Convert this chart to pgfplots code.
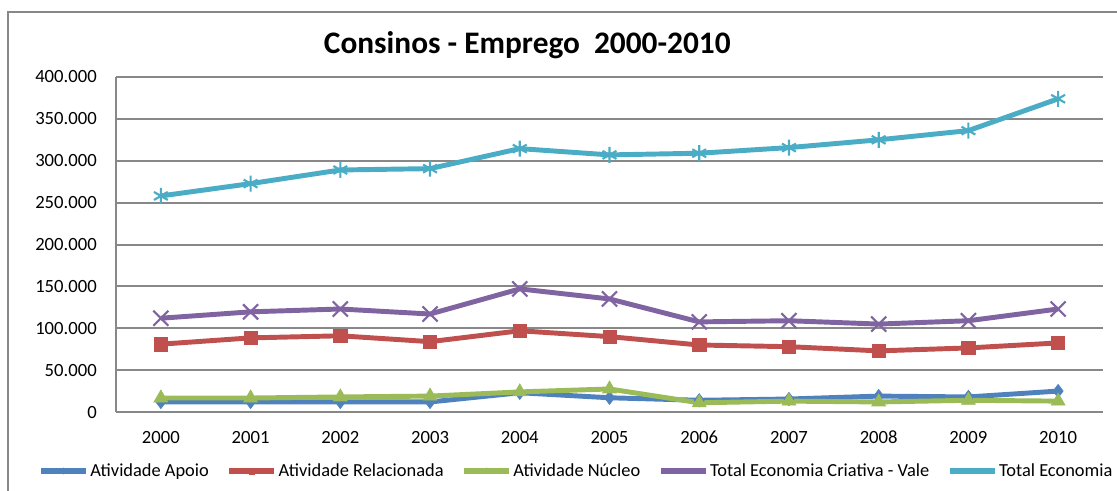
\documentclass[border=0pt]{standalone}
\usepackage{pgfplots}
\pgfplotsset{compat=1.18}
\usepackage{fontspec}
\setmainfont{Carlito}
\definecolor{cblue}{HTML}{4F81BD}
\definecolor{cred}{HTML}{C0504D}
\definecolor{cgreen}{HTML}{9BBB59}
\definecolor{cpurple}{HTML}{8064A2}
\definecolor{ccyan}{HTML}{4BACC6}
\definecolor{gridg}{HTML}{888888}
\begin{document}
\begin{tikzpicture}
\path[use as bounding box] (0,0) rectangle (837.75pt,-367.5pt);
\draw[gridg, line width=1.5pt] (6pt,-370pt) -- (6pt,-9pt) -- (840pt,-9pt);
\node[anchor=base, font=\bfseries\fontsize{23.5}{28}\selectfont, inner sep=0pt] at (395.5pt,-39.75pt) {Consinos - Emprego\ \ 2000-2010};
\begin{axis}[
  at={(87pt,-309pt)}, anchor=south west,
  width=740.25pt, height=251.25pt, scale only axis,
  xmin=-0.5, xmax=10.5, ymin=0, ymax=400000,
  xtick={0,...,10},
  xticklabels={2000,2001,2002,2003,2004,2005,2006,2007,2008,2009,2010},
  ytick={0,50000,...,400000},
  scaled y ticks=false,
  yticklabel={\pgfmathprintnumber[fixed,precision=0,1000 sep={.}]{\tick}},
  /pgf/number format/assume math mode=true,
  major tick length=0pt,
  axis x line*=bottom, axis y line*=left,
  axis line style={gridg, line width=1.5pt},
  ymajorgrids, grid style={gridg, line width=1.5pt},
  tick label style={font=\fontsize{14}{16}\selectfont, inner sep=0pt},
  yticklabel style={anchor=east, xshift=-14.25pt},
  xticklabel style={anchor=base, yshift=-23.25pt},
  legend columns=5,
  legend style={at={(-0.079,-0.1761)}, anchor=west, draw=none, fill=none, inner sep=0pt,
    font=\fontsize{13.8}{16}\selectfont,
    nodes={inner sep=1.2pt},
    /tikz/every odd column/.append style={column sep=0pt},
    /tikz/every even column/.append style={column sep=12pt}},
  legend cell align=left,
  legend image code/.code={\draw[mark repeat=2,mark phase=2,#1,line width=4.2pt,mark size=2.2pt] plot coordinates {(0pt,0pt) (16.875pt,0pt) (33.75pt,0pt)};},
  every axis plot/.append style={line width=3.7pt},
  clip=false,
]
\addplot[cblue, mark=diamond*, mark size=5pt, mark options={solid, fill=cblue, line width=0.5pt}] coordinates {
(0,12000) (1,12000) (2,12000) (3,12000) (4,23000) (5,17000) (6,14000) (7,15500) (8,19000) (9,18000) (10,25000)};
\addlegendentry{Atividade Apoio}
\addplot[cred, mark=square*, mark size=5pt, mark options={solid, fill=cred, line width=0.5pt}] coordinates {
(0,81000) (1,88500) (2,91000) (3,84000) (4,97000) (5,90000) (6,80000) (7,78000) (8,73000) (9,76500) (10,82500)};
\addlegendentry{Atividade Relacionada}
\addplot[cgreen, mark=triangle*, mark size=6pt, mark options={solid, fill=cgreen, line width=0.5pt}] coordinates {
(0,16700) (1,16700) (2,18000) (3,19000) (4,24000) (5,27500) (6,11000) (7,13000) (8,12000) (9,14000) (10,13000)};
\addlegendentry{Atividade Núcleo}
\addplot[cpurple, mark=x, mark size=8pt, mark options={solid, line width=1.6pt}] coordinates {
(0,112000) (1,119600) (2,123000) (3,117000) (4,147000) (5,135000) (6,107600) (7,109000) (8,105000) (9,109000) (10,123000)};
\addlegendentry{Total Economia Criativa - Vale}
\addplot[ccyan, mark=asterisk, mark size=6pt, mark options={solid, line width=1.6pt}] coordinates {
(0,258000) (1,272700) (2,289000) (3,290600) (4,314500) (5,307000) (6,309000) (7,315700) (8,325000) (9,336000) (10,374000)};
\addlegendentry{Total Economia}
\end{axis}
\end{tikzpicture}
\end{document}
